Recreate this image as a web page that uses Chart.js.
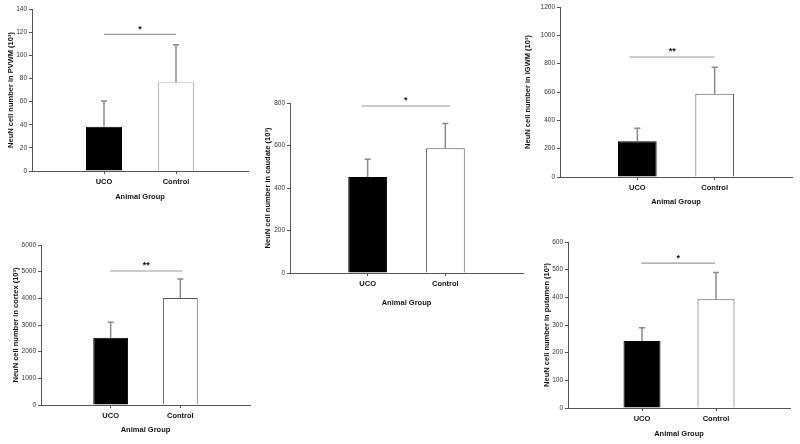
<!DOCTYPE html>
<html>
<head>
<meta charset="utf-8">
<script src="https://cdn.jsdelivr.net/npm/chart.js@4"></script>
<style>
    body { margin: 0; background: #fff; width: 800px; height: 444px; position: relative; overflow: hidden; }
    canvas { position: absolute; }
</style>
</head>
<body>
<script>
    // category slots: empty slots at both ends keep the bars at 1/3 and 2/3 of the axis
    const groups = ["", "UCO", "Control", ""];

    const pvwmMean = [38.3, 76.6];
    const pvwmErr = [22.2, 32.4];
    const caudateMean = [452, 587];
    const caudateErr = [83, 116];
    const igwmMean = [252, 588];
    const igwmErr = [92, 186];
    const cortexMean = [2525, 4010];
    const cortexErr = [575, 715];
    const putamenMean = [242, 393];
    const putamenErr = [48, 97];

    const yMax = [140, 800, 1200, 6000, 600];
    const yStep = [20, 200, 200, 1000, 100];
    const sigLevel = [118, 786, 847, 5025, 524];
    const sigStars = ["*", "*", "**", "**", "*"];
    const sigFrom = [1.0, 0.92, 0.9, 0.99, 0.99];
    const sigTo = [2.0, 2.06, 2.0, 2.03, 1.99];

    const panels = [
        { region: "PVWM", mean: pvwmMean, err: pvwmErr, box: { left: 6, top: 3, right: 252, bottom: 201 }, yWidth: 26, xHeight: 30, edge: "#b5b5b5" },
        { region: "caudate", mean: caudateMean, err: caudateErr, box: { left: 263, top: 97, right: 527, bottom: 307 }, yWidth: 27, xHeight: 34, edge: "#555" },
        { region: "IGWM", mean: igwmMean, err: igwmErr, box: { left: 523, top: 1, right: 796, bottom: 206 }, yWidth: 37, xHeight: 29, edge: "#555" },
        { region: "cortex", mean: cortexMean, err: cortexErr, box: { left: 11, top: 239, right: 254, bottom: 434 }, yWidth: 30, xHeight: 29, edge: "#555" },
        { region: "putamen", mean: putamenMean, err: putamenErr, box: { left: 542, top: 236, right: 794, bottom: 438 }, yWidth: 26, xHeight: 30, edge: "#555" }
    ];

    const font = "'Liberation Sans', Arial, sans-serif";
    const axisColor = "#555";

    function makeExtras(p, i) {
        return {
            id: "extras" + i,
            afterDatasetsDraw(chart) {
                const ctx = chart.ctx;
                const x = chart.scales.x;
                const y = chart.scales.y;
                const meta = chart.getDatasetMeta(0);
                ctx.save();
                // error bars, upward only
                ctx.strokeStyle = "#8a8a8a";
                ctx.lineWidth = 1.5;
                p.mean.forEach((m, k) => {
                    const bar = meta.data[k + 1];
                    const top = y.getPixelForValue(m + p.err[k]);
                    ctx.beginPath();
                    ctx.moveTo(bar.x, bar.y);
                    ctx.lineTo(bar.x, top);
                    ctx.moveTo(bar.x - 3, top);
                    ctx.lineTo(bar.x + 3, top);
                    ctx.stroke();
                });
                // significance line
                const ly = y.getPixelForValue(sigLevel[i]);
                const x1 = x.getPixelForValue(sigFrom[i]);
                const x2 = x.getPixelForValue(sigTo[i]);
                ctx.strokeStyle = "#9a9a9a";
                ctx.lineWidth = 1.2;
                ctx.beginPath();
                ctx.moveTo(x1, ly);
                ctx.lineTo(x2, ly);
                ctx.stroke();
                ctx.fillStyle = "#111";
                ctx.font = "bold 9px " + font;
                ctx.textAlign = "center";
                ctx.textBaseline = "middle";
                ctx.fillText(sigStars[i], (x1 + x2) / 2, ly - 5);
                ctx.restore();
            }
        };
    }

    panels.forEach((p, i) => {
        const canvas = document.createElement("canvas");
        canvas.width = p.box.right - p.box.left;
        canvas.height = p.box.bottom - p.box.top;
        canvas.style.left = p.box.left + "px";
        canvas.style.top = p.box.top + "px";
        document.body.appendChild(canvas);

        new Chart(canvas.getContext("2d"), {
            type: "bar",
            data: {
                labels: groups,
                datasets: [{
                    data: [null, p.mean[0], p.mean[1], null],
                    backgroundColor: ["#000", "#000", "#fff", "#000"],
                    borderColor: ["#000", "#000", p.edge, "#000"],
                    borderWidth: 1,
                    categoryPercentage: 1,
                    barPercentage: 0.5
                }]
            },
            options: {
                responsive: false,
                animation: false,
                layout: { padding: { top: 6, right: 4, left: 0, bottom: 0 } },
                plugins: {
                    legend: { display: false },
                    tooltip: { enabled: false }
                },
                scales: {
                    x: {
                        offset: false,
                        afterFit(scale) { scale.height = p.xHeight; },
                        border: { display: true, color: axisColor, width: 1 },
                        grid: {
                            offset: false,
                            drawOnChartArea: false,
                            drawTicks: true,
                            tickLength: 3,
                            color: (c) => (c.index === 1 || c.index === 2) ? axisColor : "rgba(0,0,0,0)"
                        },
                        ticks: {
                            color: "#111",
                            padding: 3,
                            autoSkip: false,
                            maxRotation: 0,
                            font: { family: font, size: 7.5, weight: "bold" }
                        },
                        title: {
                            display: true,
                            text: "Animal Group",
                            color: "#111",
                            padding: 0,
                            font: { family: font, size: 7.5, weight: "bold" }
                        }
                    },
                    y: {
                        min: 0,
                        max: yMax[i],
                        afterFit(scale) { scale.width = p.yWidth; },
                        border: { display: true, color: axisColor, width: 1 },
                        grid: {
                            drawOnChartArea: false,
                            drawTicks: true,
                            tickLength: 3,
                            color: axisColor
                        },
                        ticks: {
                            stepSize: yStep[i],
                            color: "#333",
                            padding: 2,
                            callback: (v) => String(v),
                            font: { family: font, size: 6.5 }
                        },
                        title: {
                            display: true,
                            text: "NeuN cell number in " + p.region + " (10³)",
                            color: "#111",
                            padding: 0,
                            font: { family: font, size: 7.5, weight: "bold" }
                        }
                    }
                }
            },
            plugins: [makeExtras(p, i)]
        });
    });
</script>
</body>
</html>
